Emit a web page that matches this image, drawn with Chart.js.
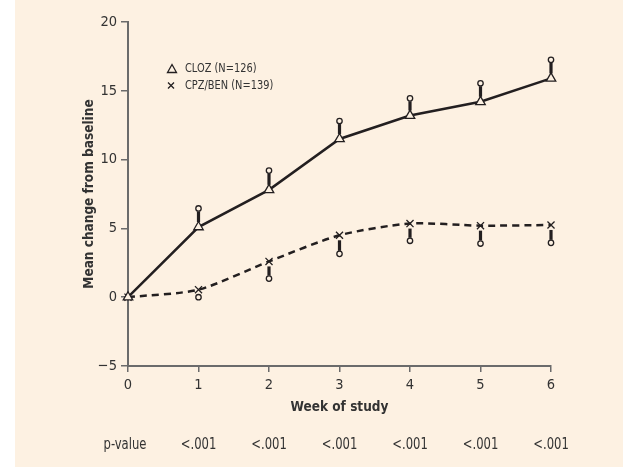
<!DOCTYPE html>
<html>
<head>
<meta charset="utf-8">
<script src="https://cdn.jsdelivr.net/npm/chart.js@4"></script>
<style>
  html, body { margin: 0; padding: 0; background: #fff; }
  #wrap { position: absolute; left: 0; top: 0; width: 623px; height: 467px; }
  #bg { position: absolute; left: 15px; top: 0; right: 0; bottom: 0; background: #fdf1e2; }
  canvas { position: absolute; left: 0; top: 0; }
</style>
</head>
<body>
<div id="wrap"><div id="bg"></div><canvas id="c" width="623" height="467"></canvas></div>
<script>
const weeks = [0, 1, 2, 3, 4, 5, 6];
const clozMean = [0, 5.1, 7.8, 11.5, 13.2, 14.2, 15.9];
const clozUpper = [null, 6.45, 9.2, 12.8, 14.45, 15.55, 17.25];
const cpzMean = [0, 0.55, 2.6, 4.5, 5.35, 5.2, 5.25];
const cpzLower = [null, 0.0, 1.35, 3.15, 4.1, 3.9, 3.95];
const pValues = ['p-value', '<.001', '<.001', '<.001', '<.001', '<.001', '<.001'];
const legendLabels = ['CLOZ (N=126)', 'CPZ/BEN (N=139)'];

const ink = '#231f20';
const cream = '#fdf1e2';
const textCol = '#333333';
const axisCol = '#6b6b6b';
const narrow = '"Liberation Sans Narrow", "DejaVu Sans Condensed", Arial, sans-serif';

// error bars: thick stem + small open circle
const errorBars = {
  id: 'errorBars',
  afterDatasetsDraw(chart) {
    const ctx = chart.ctx;
    const x = chart.scales.x, y = chart.scales.y;
    chart.data.datasets.forEach(ds => {
      if (!ds.tips) return;
      ds.data.forEach((pt, i) => {
        const tip = ds.tips[i];
        if (tip == null) return;
        const px = x.getPixelForValue(pt.x);
        const y0 = y.getPixelForValue(pt.y);
        const y1 = y.getPixelForValue(tip);
        const dir = y1 < y0 ? -1 : 1;
        const a = y0 + dir * 5, b = y1 - dir * 3;
        ctx.save();
        ctx.strokeStyle = ink;
        if ((b - a) * dir > 0) {
          ctx.lineWidth = 3.2;
          ctx.beginPath();
          ctx.moveTo(px, a);
          ctx.lineTo(px, b);
          ctx.stroke();
        }
        ctx.lineWidth = 1.3;
        ctx.fillStyle = cream;
        ctx.beginPath();
        ctx.arc(px, y1, 2.7, 0, Math.PI * 2);
        ctx.fill();
        ctx.stroke();
        ctx.restore();
      });
    });
  }
};

// squeezed text, to get close to the condensed face of the original
function narrowText(ctx, str, x, y, sx) {
  ctx.save();
  ctx.translate(x, y);
  ctx.scale(sx, 1);
  ctx.fillText(str, 0, 0);
  ctx.restore();
}

// legend + p-value row
const extras = {
  id: 'extras',
  afterDraw(chart) {
    const ctx = chart.ctx;
    const x = chart.scales.x;
    ctx.save();
    ctx.fillStyle = textCol;
    ctx.font = '15px ' + narrow;
    ctx.textAlign = 'center';
    ctx.textBaseline = 'middle';
    pValues.forEach((p, i) => {
      const px = i === 0 ? x.getPixelForValue(weeks[i]) - 3 : x.getPixelForValue(weeks[i]);
      narrowText(ctx, p, px, 445, 0.86);
    });

    // legend
    ctx.strokeStyle = ink;
    ctx.lineWidth = 1.3;
    ctx.beginPath();
    ctx.moveTo(172, 64.5);
    ctx.lineTo(176.5, 72.5);
    ctx.lineTo(167.5, 72.5);
    ctx.closePath();
    ctx.stroke();
    ctx.beginPath();
    ctx.moveTo(168, 82.5);
    ctx.lineTo(174, 88.5);
    ctx.moveTo(174, 82.5);
    ctx.lineTo(168, 88.5);
    ctx.stroke();
    ctx.font = '13px ' + narrow;
    ctx.textAlign = 'left';
    narrowText(ctx, legendLabels[0], 185, 69, 0.84);
    narrowText(ctx, legendLabels[1], 185, 86, 0.84);
    ctx.restore();
  }
};

const config = {
  type: 'line',
  data: {
    datasets: [
      {
        label: legendLabels[0],
        data: weeks.map((w, i) => ({ x: w, y: clozMean[i] })),
        tips: clozUpper,
        borderColor: ink,
        borderWidth: 2.5,
        tension: 0,
        pointStyle: 'triangle',
        pointRadius: 5.5,
        pointBackgroundColor: cream,
        pointBorderColor: ink,
        pointBorderWidth: 1.3,
        clip: false,
        order: 1
      },
      {
        label: legendLabels[1],
        data: weeks.map((w, i) => ({ x: w, y: cpzMean[i] })),
        tips: cpzLower,
        borderColor: ink,
        borderWidth: 2.5,
        borderDash: [7, 5],
        tension: 0.25,
        pointStyle: 'crossRot',
        pointRadius: 5,
        pointBorderColor: ink,
        pointBorderWidth: 1.3,
        clip: false,
        order: 2
      }
    ]
  },
  options: {
    responsive: false,
    animation: false,
    layout: { padding: { left: 77, right: 72, top: 22, bottom: 49 } },
    plugins: { legend: { display: false }, tooltip: { enabled: false } },
    scales: {
      x: {
        type: 'linear',
        min: 0,
        max: 6,
        afterFit(scale) { scale.height = 52; },
        ticks: { stepSize: 1, padding: 5, color: textCol, font: { family: narrow, size: 14.5 } },
        grid: { drawOnChartArea: false, drawTicks: true, tickLength: 6, color: axisCol, lineWidth: 1.5 },
        border: { display: true, color: axisCol, width: 2 },
        title: {
          display: true,
          text: 'Week of study',
          color: textCol,
          padding: { top: 0, bottom: 2 },
          font: { family: narrow, size: 13.5, weight: 'bold' }
        }
      },
      y: {
        min: -5,
        max: 20,
        afterFit(scale) { scale.width = 51; },
        ticks: {
          stepSize: 5,
          padding: 4,
          color: textCol,
          font: { family: narrow, size: 14.5 },
          callback: v => (v < 0 ? '\u2212' + (-v) : String(v))
        },
        grid: { drawOnChartArea: false, drawTicks: true, tickLength: 7, color: axisCol, lineWidth: 1.5 },
        border: { display: true, color: axisCol, width: 2 },
        title: {
          display: true,
          text: 'Mean change from baseline',
          color: textCol,
          padding: { top: 4, bottom: 0 },
          font: { family: narrow, size: 13.5, weight: 'bold' }
        }
      }
    }
  },
  plugins: [errorBars, extras]
};

new Chart(document.getElementById('c'), config);
</script>
</body>
</html>
